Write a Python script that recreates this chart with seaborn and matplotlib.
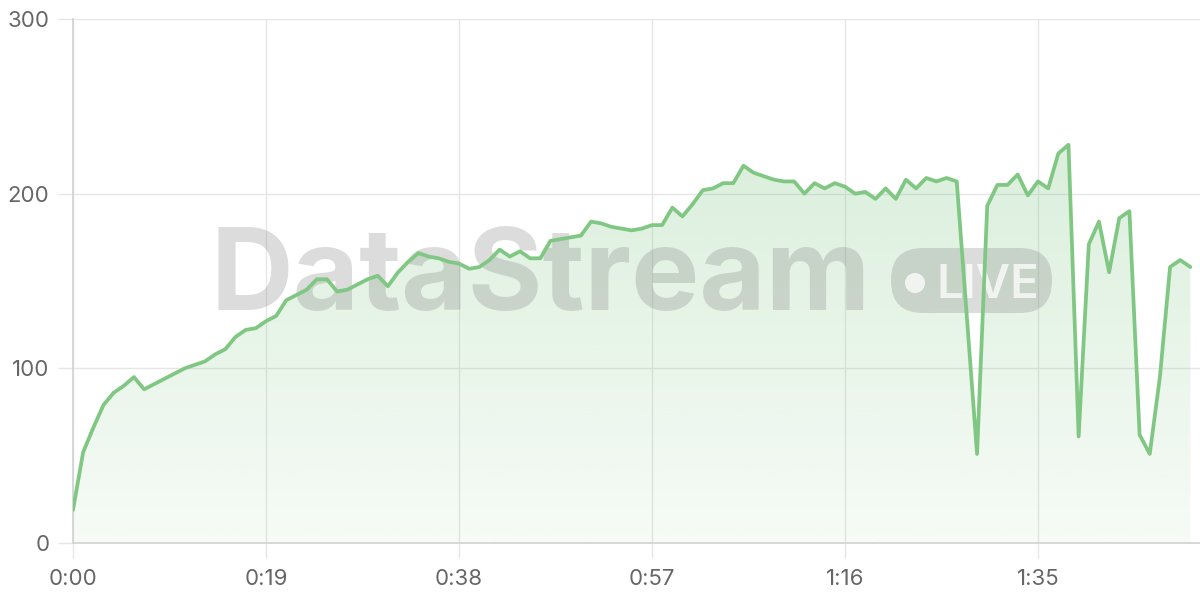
import numpy as np
import matplotlib
matplotlib.use('Agg')
import matplotlib.pyplot as plt
import seaborn as sns
from matplotlib.patches import FancyBboxPatch, Circle
from matplotlib.colors import to_rgb

# one reading per second
seconds = list(range(111))
values = [19, 52, 66, 79, 86, 90, 95, 88, 91, 94,
          97, 100, 102, 104, 108, 111, 118, 122, 123, 127,
          130, 139, 142, 145, 151, 151, 144, 145, 148, 151,
          153, 147, 155, 161, 166, 164, 163, 161, 160, 157,
          158, 162, 168, 164, 167, 163, 163, 173, 174, 175,
          176, 184, 183, 181, 180, 179, 180, 182, 182, 192,
          187, 194, 202, 203, 206, 206, 216, 212, 210, 208,
          207, 207, 200, 206, 203, 206, 204, 200, 201, 197,
          203, 197, 208, 203, 209, 207, 209, 207, 129, 51,
          193, 205, 205, 211, 199, 207, 203, 223, 228, 61,
          171, 184, 155, 186, 190, 62, 51, 95, 158, 162,
          158]
x_ticks = [0, 19, 38, 57, 76, 95]
x_labels = ['0:00', '0:19', '0:38', '0:57', '1:16', '1:35']
y_ticks = [0, 100, 200, 300]

green = '#81C784'
grid_col = '#e6e6e6'
label_col = '#666666'

sns.set_style('white')
plt.rcParams['font.family'] = ['Inter', 'DejaVu Sans']

fig = plt.figure(figsize=(12, 6), dpi=100)
# axes box in pixels: left 73, right 1200, top 19, bottom 543
ax = fig.add_axes([73 / 1200, 57 / 600, 1127 / 1200, 524 / 600])

sns.lineplot(x=seconds, y=values, ax=ax, color=green, linewidth=2.7, zorder=4)

# gradient fill under the line
poly = ax.fill_between(seconds, values, 0, facecolor='none', edgecolor='none')
r, g, b = to_rgb(green)
alpha = np.linspace(0.36, 0.07, 256)
grad = np.zeros((256, 1, 4))
grad[:, 0, 0] = r
grad[:, 0, 1] = g
grad[:, 0, 2] = b
grad[:, 0, 3] = alpha
img = ax.imshow(grad, extent=[0, 110, 0, 300], aspect='auto', origin='upper', zorder=1)
img.set_clip_path(poly.get_paths()[0], transform=ax.transData)

ax.set_xlim(0, 1127 / 10.158)
ax.set_ylim(0, 300)
ax.set_xticks(x_ticks)
ax.set_xticklabels(x_labels)
ax.set_yticks(y_ticks)
ax.grid(True, color=grid_col, linewidth=1)
ax.set_axisbelow(True)
ax.tick_params(axis='both', length=11, width=1, color=grid_col, labelsize=16,
               labelcolor=label_col, pad=6)
ax.tick_params(axis='x', pad=8)
ax.tick_params(axis='both', which='both', left=True, bottom=True)
for s in ['top', 'right']:
    ax.spines[s].set_visible(False)
for s in ['left', 'bottom']:
    ax.spines[s].set_color('#d4d4d4')
    ax.spines[s].set_linewidth(1.3)

# watermark, placed in figure pixels (y from the top of the picture)
def px(xp, yp):
    return xp / 100, (600 - yp) / 100

wm = dict(transform=fig.dpi_scale_trans, zorder=2, clip_on=False)
ax.text(*px(541, 310), 'DataStream', fontsize=82.5, fontweight='bold',
        color='#808080', alpha=0.27, ha='center', va='baseline', **wm)
x0, y0 = px(891, 313)
pill = FancyBboxPatch((x0 + 0.32, y0 + 0.32), 1.61 - 0.64, 0.01,
                      boxstyle='round,pad=0.32,rounding_size=0.32',
                      facecolor='#808080', alpha=0.27, edgecolor='none', **wm)
ax.add_patch(pill)
ax.add_patch(Circle(px(915, 283), 0.10, facecolor='white', alpha=0.75,
                    edgecolor='none', **wm))
ax.text(*px(937, 298), 'LIVE', fontsize=34, fontweight='semibold',
        color='white', alpha=0.75, ha='left', va='baseline', **wm)

plt.savefig('out.png', dpi=100)
